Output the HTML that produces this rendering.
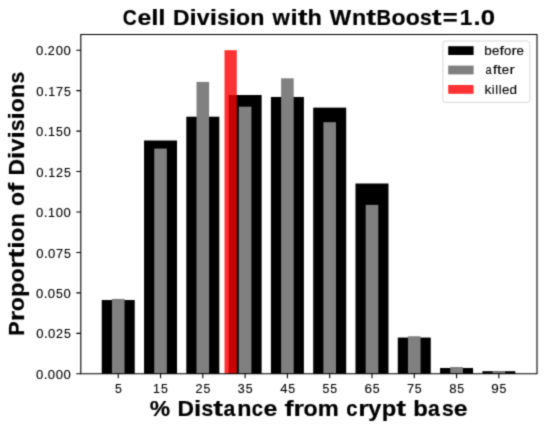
<!DOCTYPE html><html><head><meta charset="utf-8"><style>html,body{margin:0;padding:0;background:#fff;width:550px;height:428px;overflow:hidden}svg{display:block}text{font-family:"Liberation Sans",sans-serif;fill:#000;white-space:pre}</style></head><body>
<svg width="550" height="428" viewBox="0 0 550 428">
<defs><filter id="bl" x="0" y="0" width="550" height="428" filterUnits="userSpaceOnUse" color-interpolation-filters="sRGB"><feConvolveMatrix order="3" kernelMatrix="0.02768 0.11101 0.02768 0.11101 0.44521 0.11101 0.02768 0.11101 0.02768" edgeMode="duplicate"/></filter></defs>
<rect x="0" y="0" width="550" height="428" fill="#fff"/>
<g filter="url(#bl)">
<rect x="101.74" y="300.02" width="33.00" height="73.78" fill="#000"/>
<rect x="144.03" y="140.48" width="33.00" height="233.32" fill="#000"/>
<rect x="186.32" y="116.70" width="33.00" height="257.10" fill="#000"/>
<rect x="228.62" y="95.02" width="33.00" height="278.78" fill="#000"/>
<rect x="270.90" y="96.96" width="33.00" height="276.84" fill="#000"/>
<rect x="313.19" y="107.64" width="33.00" height="266.16" fill="#000"/>
<rect x="355.49" y="183.52" width="33.00" height="190.28" fill="#000"/>
<rect x="397.77" y="337.56" width="33.00" height="36.24" fill="#000"/>
<rect x="440.07" y="367.98" width="33.00" height="5.82" fill="#000"/>
<rect x="482.36" y="371.21" width="33.00" height="2.59" fill="#000"/>
<rect x="111.94" y="298.89" width="12.60" height="74.91" fill="#808080"/>
<rect x="154.23" y="148.57" width="12.60" height="225.23" fill="#808080"/>
<rect x="196.52" y="81.91" width="12.60" height="291.89" fill="#808080"/>
<rect x="238.81" y="106.67" width="12.60" height="267.13" fill="#808080"/>
<rect x="281.10" y="78.35" width="12.60" height="295.45" fill="#808080"/>
<rect x="323.39" y="122.20" width="12.60" height="251.60" fill="#808080"/>
<rect x="365.69" y="204.88" width="12.60" height="168.92" fill="#808080"/>
<rect x="407.97" y="336.26" width="12.60" height="37.54" fill="#808080"/>
<rect x="450.27" y="367.00" width="12.60" height="6.80" fill="#808080"/>
<rect x="492.56" y="371.21" width="12.60" height="2.59" fill="#808080"/>
<rect x="224.50" y="50.20" width="12.30" height="323.60" fill="#ff0000" fill-opacity="0.8"/>
<path d="M80.8 34.45H537.0V373.8H80.8Z" fill="none" stroke="#000" stroke-width="1.1"/>
<path d="M76.30 373.80H80.8M76.30 333.35H80.8M76.30 292.90H80.8M76.30 252.45H80.8M76.30 212.00H80.8M76.30 171.55H80.8M76.30 131.10H80.8M76.30 90.65H80.8M76.30 50.20H80.8M118.24 373.8V378.30M160.53 373.8V378.30M202.82 373.8V378.30M245.12 373.8V378.30M287.40 373.8V378.30M329.69 373.8V378.30M371.99 373.8V378.30M414.27 373.8V378.30M456.57 373.8V378.30M498.86 373.8V378.30" stroke="#000" stroke-width="1.1" fill="none"/>
<text y="378.90" font-size="13.02" font-weight="normal" stroke="#000" stroke-width="0.12"><tspan x="36.03" textLength="7.27" lengthAdjust="spacingAndGlyphs">0</tspan><tspan x="43.71" textLength="3.73" lengthAdjust="spacingAndGlyphs">.</tspan><tspan x="47.86" textLength="7.27" lengthAdjust="spacingAndGlyphs">0</tspan><tspan x="55.75" textLength="7.27" lengthAdjust="spacingAndGlyphs">0</tspan><tspan x="63.64" textLength="7.27" lengthAdjust="spacingAndGlyphs">0</tspan></text>
<text y="338.45" font-size="13.02" font-weight="normal" stroke="#000" stroke-width="0.12"><tspan x="36.29" textLength="7.27" lengthAdjust="spacingAndGlyphs">0</tspan><tspan x="43.98" textLength="3.73" lengthAdjust="spacingAndGlyphs">.</tspan><tspan x="48.12" textLength="7.27" lengthAdjust="spacingAndGlyphs">0</tspan><tspan x="55.98" textLength="7.01" lengthAdjust="spacingAndGlyphs">2</tspan><tspan x="64.06" textLength="6.86" lengthAdjust="spacingAndGlyphs">5</tspan></text>
<text y="298.00" font-size="13.02" font-weight="normal" stroke="#000" stroke-width="0.12"><tspan x="36.03" textLength="7.27" lengthAdjust="spacingAndGlyphs">0</tspan><tspan x="43.71" textLength="3.73" lengthAdjust="spacingAndGlyphs">.</tspan><tspan x="47.86" textLength="7.27" lengthAdjust="spacingAndGlyphs">0</tspan><tspan x="55.91" textLength="6.86" lengthAdjust="spacingAndGlyphs">5</tspan><tspan x="63.64" textLength="7.27" lengthAdjust="spacingAndGlyphs">0</tspan></text>
<text y="257.55" font-size="13.02" font-weight="normal" stroke="#000" stroke-width="0.12"><tspan x="36.29" textLength="7.27" lengthAdjust="spacingAndGlyphs">0</tspan><tspan x="43.98" textLength="3.73" lengthAdjust="spacingAndGlyphs">.</tspan><tspan x="48.12" textLength="7.27" lengthAdjust="spacingAndGlyphs">0</tspan><tspan x="56.07" textLength="7.11" lengthAdjust="spacingAndGlyphs">7</tspan><tspan x="64.06" textLength="6.86" lengthAdjust="spacingAndGlyphs">5</tspan></text>
<text y="217.10" font-size="13.02" font-weight="normal" stroke="#000" stroke-width="0.12"><tspan x="36.03" textLength="7.27" lengthAdjust="spacingAndGlyphs">0</tspan><tspan x="43.71" textLength="3.73" lengthAdjust="spacingAndGlyphs">.</tspan><tspan x="47.97" textLength="6.94" lengthAdjust="spacingAndGlyphs">1</tspan><tspan x="55.75" textLength="7.27" lengthAdjust="spacingAndGlyphs">0</tspan><tspan x="63.64" textLength="7.27" lengthAdjust="spacingAndGlyphs">0</tspan></text>
<text y="176.65" font-size="13.02" font-weight="normal" stroke="#000" stroke-width="0.12"><tspan x="36.29" textLength="7.27" lengthAdjust="spacingAndGlyphs">0</tspan><tspan x="43.98" textLength="3.73" lengthAdjust="spacingAndGlyphs">.</tspan><tspan x="48.23" textLength="6.94" lengthAdjust="spacingAndGlyphs">1</tspan><tspan x="55.98" textLength="7.01" lengthAdjust="spacingAndGlyphs">2</tspan><tspan x="64.06" textLength="6.86" lengthAdjust="spacingAndGlyphs">5</tspan></text>
<text y="136.20" font-size="13.02" font-weight="normal" stroke="#000" stroke-width="0.12"><tspan x="36.03" textLength="7.27" lengthAdjust="spacingAndGlyphs">0</tspan><tspan x="43.71" textLength="3.73" lengthAdjust="spacingAndGlyphs">.</tspan><tspan x="47.97" textLength="6.94" lengthAdjust="spacingAndGlyphs">1</tspan><tspan x="55.91" textLength="6.86" lengthAdjust="spacingAndGlyphs">5</tspan><tspan x="63.64" textLength="7.27" lengthAdjust="spacingAndGlyphs">0</tspan></text>
<text y="95.75" font-size="13.02" font-weight="normal" stroke="#000" stroke-width="0.12"><tspan x="36.29" textLength="7.27" lengthAdjust="spacingAndGlyphs">0</tspan><tspan x="43.98" textLength="3.73" lengthAdjust="spacingAndGlyphs">.</tspan><tspan x="48.23" textLength="6.94" lengthAdjust="spacingAndGlyphs">1</tspan><tspan x="56.07" textLength="7.11" lengthAdjust="spacingAndGlyphs">7</tspan><tspan x="64.06" textLength="6.86" lengthAdjust="spacingAndGlyphs">5</tspan></text>
<text y="55.30" font-size="13.02" font-weight="normal" stroke="#000" stroke-width="0.12"><tspan x="36.03" textLength="7.27" lengthAdjust="spacingAndGlyphs">0</tspan><tspan x="43.71" textLength="3.73" lengthAdjust="spacingAndGlyphs">.</tspan><tspan x="47.83" textLength="7.01" lengthAdjust="spacingAndGlyphs">2</tspan><tspan x="55.75" textLength="7.27" lengthAdjust="spacingAndGlyphs">0</tspan><tspan x="63.64" textLength="7.27" lengthAdjust="spacingAndGlyphs">0</tspan></text>
<text y="392.80" font-size="13.02" font-weight="normal" stroke="#000" stroke-width="0.12"><tspan x="114.93" textLength="6.86" lengthAdjust="spacingAndGlyphs">5</tspan></text>
<text y="392.80" font-size="13.02" font-weight="normal" stroke="#000" stroke-width="0.12"><tspan x="153.02" textLength="6.94" lengthAdjust="spacingAndGlyphs">1</tspan><tspan x="160.96" textLength="6.86" lengthAdjust="spacingAndGlyphs">5</tspan></text>
<text y="392.80" font-size="13.02" font-weight="normal" stroke="#000" stroke-width="0.12"><tspan x="195.40" textLength="7.01" lengthAdjust="spacingAndGlyphs">2</tspan><tspan x="203.48" textLength="6.86" lengthAdjust="spacingAndGlyphs">5</tspan></text>
<text y="392.80" font-size="13.02" font-weight="normal" stroke="#000" stroke-width="0.12"><tspan x="237.86" textLength="6.98" lengthAdjust="spacingAndGlyphs">3</tspan><tspan x="245.75" textLength="6.86" lengthAdjust="spacingAndGlyphs">5</tspan></text>
<text y="392.80" font-size="13.02" font-weight="normal" stroke="#000" stroke-width="0.12"><tspan x="280.16" textLength="7.27" lengthAdjust="spacingAndGlyphs">4</tspan><tspan x="288.21" textLength="6.86" lengthAdjust="spacingAndGlyphs">5</tspan></text>
<text y="392.80" font-size="13.02" font-weight="normal" stroke="#000" stroke-width="0.12"><tspan x="322.43" textLength="6.86" lengthAdjust="spacingAndGlyphs">5</tspan><tspan x="330.32" textLength="6.86" lengthAdjust="spacingAndGlyphs">5</tspan></text>
<text y="392.80" font-size="13.02" font-weight="normal" stroke="#000" stroke-width="0.12"><tspan x="364.48" textLength="7.52" lengthAdjust="spacingAndGlyphs">6</tspan><tspan x="372.66" textLength="6.86" lengthAdjust="spacingAndGlyphs">5</tspan></text>
<text y="392.80" font-size="13.02" font-weight="normal" stroke="#000" stroke-width="0.12"><tspan x="406.88" textLength="7.11" lengthAdjust="spacingAndGlyphs">7</tspan><tspan x="414.87" textLength="6.86" lengthAdjust="spacingAndGlyphs">5</tspan></text>
<text y="392.80" font-size="13.02" font-weight="normal" stroke="#000" stroke-width="0.12"><tspan x="449.16" textLength="7.35" lengthAdjust="spacingAndGlyphs">8</tspan><tspan x="457.25" textLength="6.86" lengthAdjust="spacingAndGlyphs">5</tspan></text>
<text y="392.80" font-size="13.02" font-weight="normal" stroke="#000" stroke-width="0.12"><tspan x="491.37" textLength="7.51" lengthAdjust="spacingAndGlyphs">9</tspan><tspan x="499.57" textLength="6.86" lengthAdjust="spacingAndGlyphs">5</tspan></text>
<text y="25.30" font-size="21.47" font-weight="bold" stroke="#000" stroke-width="0.2"><tspan x="122.80" textLength="14.01" lengthAdjust="spacingAndGlyphs">C</tspan><tspan x="137.50" textLength="13.82" lengthAdjust="spacingAndGlyphs">e</tspan><tspan x="151.36" textLength="7.24" lengthAdjust="spacingAndGlyphs">l</tspan><tspan x="158.37" textLength="7.24" lengthAdjust="spacingAndGlyphs">l</tspan> <tspan x="172.95" textLength="16.52" lengthAdjust="spacingAndGlyphs">D</tspan><tspan x="189.47" textLength="7.24" lengthAdjust="spacingAndGlyphs">i</tspan><tspan x="196.80" textLength="12.91" lengthAdjust="spacingAndGlyphs">v</tspan><tspan x="209.81" textLength="7.24" lengthAdjust="spacingAndGlyphs">i</tspan><tspan x="217.24" textLength="11.76" lengthAdjust="spacingAndGlyphs">s</tspan><tspan x="228.99" textLength="7.24" lengthAdjust="spacingAndGlyphs">i</tspan><tspan x="236.08" textLength="14.09" lengthAdjust="spacingAndGlyphs">o</tspan><tspan x="250.34" textLength="14.22" lengthAdjust="spacingAndGlyphs">n</tspan> <tspan x="272.62" textLength="17.36" lengthAdjust="spacingAndGlyphs">w</tspan><tspan x="290.62" textLength="7.24" lengthAdjust="spacingAndGlyphs">i</tspan><tspan x="297.65" textLength="9.75" lengthAdjust="spacingAndGlyphs">t</tspan><tspan x="307.59" textLength="14.34" lengthAdjust="spacingAndGlyphs">h</tspan> <tspan x="329.78" textLength="21.35" lengthAdjust="spacingAndGlyphs">W</tspan><tspan x="351.93" textLength="14.22" lengthAdjust="spacingAndGlyphs">n</tspan><tspan x="366.22" textLength="9.75" lengthAdjust="spacingAndGlyphs">t</tspan><tspan x="376.61" textLength="14.53" lengthAdjust="spacingAndGlyphs">B</tspan><tspan x="391.64" textLength="14.09" lengthAdjust="spacingAndGlyphs">o</tspan><tspan x="405.69" textLength="14.09" lengthAdjust="spacingAndGlyphs">o</tspan><tspan x="420.08" textLength="11.76" lengthAdjust="spacingAndGlyphs">s</tspan><tspan x="431.85" textLength="9.75" lengthAdjust="spacingAndGlyphs">t</tspan><tspan x="442.82" textLength="14.91" lengthAdjust="spacingAndGlyphs">=</tspan><tspan x="459.73" textLength="12.57" lengthAdjust="spacingAndGlyphs">1</tspan><tspan x="473.44" textLength="7.08" lengthAdjust="spacingAndGlyphs">.</tspan><tspan x="480.80" textLength="14.35" lengthAdjust="spacingAndGlyphs">0</tspan></text>
<text y="416.20" font-size="21.47" font-weight="bold" stroke="#000" stroke-width="0.2"><tspan x="149.73" textLength="20.36" lengthAdjust="spacingAndGlyphs">%</tspan> <tspan x="177.60" textLength="16.52" lengthAdjust="spacingAndGlyphs">D</tspan><tspan x="194.12" textLength="7.24" lengthAdjust="spacingAndGlyphs">i</tspan><tspan x="201.55" textLength="11.76" lengthAdjust="spacingAndGlyphs">s</tspan><tspan x="213.32" textLength="9.75" lengthAdjust="spacingAndGlyphs">t</tspan><tspan x="223.44" textLength="11.80" lengthAdjust="spacingAndGlyphs">a</tspan><tspan x="237.17" textLength="14.22" lengthAdjust="spacingAndGlyphs">n</tspan><tspan x="251.63" textLength="11.26" lengthAdjust="spacingAndGlyphs">c</tspan><tspan x="263.57" textLength="13.82" lengthAdjust="spacingAndGlyphs">e</tspan> <tspan x="284.58" textLength="9.10" lengthAdjust="spacingAndGlyphs">f</tspan><tspan x="293.49" textLength="10.49" lengthAdjust="spacingAndGlyphs">r</tspan><tspan x="303.61" textLength="14.09" lengthAdjust="spacingAndGlyphs">o</tspan><tspan x="317.82" textLength="21.02" lengthAdjust="spacingAndGlyphs">m</tspan> <tspan x="346.20" textLength="11.26" lengthAdjust="spacingAndGlyphs">c</tspan><tspan x="358.18" textLength="10.49" lengthAdjust="spacingAndGlyphs">r</tspan><tspan x="368.39" textLength="13.02" lengthAdjust="spacingAndGlyphs">y</tspan><tspan x="381.80" textLength="14.55" lengthAdjust="spacingAndGlyphs">p</tspan><tspan x="396.20" textLength="9.75" lengthAdjust="spacingAndGlyphs">t</tspan> <tspan x="413.33" textLength="14.55" lengthAdjust="spacingAndGlyphs">b</tspan><tspan x="428.08" textLength="11.80" lengthAdjust="spacingAndGlyphs">a</tspan><tspan x="441.94" textLength="11.76" lengthAdjust="spacingAndGlyphs">s</tspan><tspan x="453.70" textLength="13.82" lengthAdjust="spacingAndGlyphs">e</tspan></text>
<g transform="translate(23.9 334.4) rotate(-90)"><text y="0.00" font-size="21.47" font-weight="bold" stroke="#000" stroke-width="0.2"><tspan x="-1.45" textLength="14.46" lengthAdjust="spacingAndGlyphs">P</tspan><tspan x="13.05" textLength="10.49" lengthAdjust="spacingAndGlyphs">r</tspan><tspan x="23.17" textLength="14.09" lengthAdjust="spacingAndGlyphs">o</tspan><tspan x="37.39" textLength="14.55" lengthAdjust="spacingAndGlyphs">p</tspan><tspan x="51.86" textLength="14.09" lengthAdjust="spacingAndGlyphs">o</tspan><tspan x="65.87" textLength="10.49" lengthAdjust="spacingAndGlyphs">r</tspan><tspan x="75.93" textLength="9.75" lengthAdjust="spacingAndGlyphs">t</tspan><tspan x="85.69" textLength="7.24" lengthAdjust="spacingAndGlyphs">i</tspan><tspan x="92.78" textLength="14.09" lengthAdjust="spacingAndGlyphs">o</tspan><tspan x="107.04" textLength="14.22" lengthAdjust="spacingAndGlyphs">n</tspan> <tspan x="128.51" textLength="14.09" lengthAdjust="spacingAndGlyphs">o</tspan><tspan x="142.50" textLength="9.10" lengthAdjust="spacingAndGlyphs">f</tspan> <tspan x="158.94" textLength="16.52" lengthAdjust="spacingAndGlyphs">D</tspan><tspan x="175.47" textLength="7.24" lengthAdjust="spacingAndGlyphs">i</tspan><tspan x="182.80" textLength="12.91" lengthAdjust="spacingAndGlyphs">v</tspan><tspan x="195.81" textLength="7.24" lengthAdjust="spacingAndGlyphs">i</tspan><tspan x="203.24" textLength="11.76" lengthAdjust="spacingAndGlyphs">s</tspan><tspan x="214.99" textLength="7.24" lengthAdjust="spacingAndGlyphs">i</tspan><tspan x="222.08" textLength="14.09" lengthAdjust="spacingAndGlyphs">o</tspan><tspan x="236.34" textLength="14.22" lengthAdjust="spacingAndGlyphs">n</tspan><tspan x="251.03" textLength="11.76" lengthAdjust="spacingAndGlyphs">s</tspan></text></g>
<rect x="442.9" y="41.0" width="87.0" height="61.4" rx="2.5" ry="2.5" fill="#fff" fill-opacity="0.8" stroke="#d4d4d4" stroke-width="0.9"/>
<rect x="448.2" y="46.2" width="25.4" height="8.8" fill="#000"/>
<rect x="448.2" y="65.6" width="25.4" height="8.8" fill="#808080"/>
<rect x="448.2" y="85.0" width="25.4" height="8.8" fill="#ff0000" fill-opacity="0.8"/>
<text y="55.20" font-size="13.02" font-weight="normal" stroke="#000" stroke-width="0.12"><tspan x="484.33" textLength="7.50" lengthAdjust="spacingAndGlyphs">b</tspan><tspan x="492.06" textLength="7.45" lengthAdjust="spacingAndGlyphs">e</tspan><tspan x="499.63" textLength="4.52" lengthAdjust="spacingAndGlyphs">f</tspan><tspan x="504.07" textLength="7.33" lengthAdjust="spacingAndGlyphs">o</tspan><tspan x="511.60" textLength="5.29" lengthAdjust="spacingAndGlyphs">r</tspan><tspan x="516.47" textLength="7.45" lengthAdjust="spacingAndGlyphs">e</tspan></text>
<text y="74.30" font-size="13.02" font-weight="normal" stroke="#000" stroke-width="0.12"><tspan x="485.43" textLength="6.20" lengthAdjust="spacingAndGlyphs">a</tspan><tspan x="492.81" textLength="4.52" lengthAdjust="spacingAndGlyphs">f</tspan><tspan x="496.98" textLength="4.60" lengthAdjust="spacingAndGlyphs">t</tspan><tspan x="501.88" textLength="7.45" lengthAdjust="spacingAndGlyphs">e</tspan><tspan x="509.46" textLength="5.29" lengthAdjust="spacingAndGlyphs">r</tspan></text>
<text y="93.90" font-size="13.02" font-weight="normal" stroke="#000" stroke-width="0.12"><tspan x="484.47" textLength="6.93" lengthAdjust="spacingAndGlyphs">k</tspan><tspan x="491.78" textLength="2.82" lengthAdjust="spacingAndGlyphs">i</tspan><tspan x="495.21" textLength="2.82" lengthAdjust="spacingAndGlyphs">l</tspan><tspan x="498.66" textLength="2.82" lengthAdjust="spacingAndGlyphs">l</tspan><tspan x="501.91" textLength="7.45" lengthAdjust="spacingAndGlyphs">e</tspan><tspan x="509.54" textLength="7.50" lengthAdjust="spacingAndGlyphs">d</tspan></text>
</g>
</svg></body></html>
